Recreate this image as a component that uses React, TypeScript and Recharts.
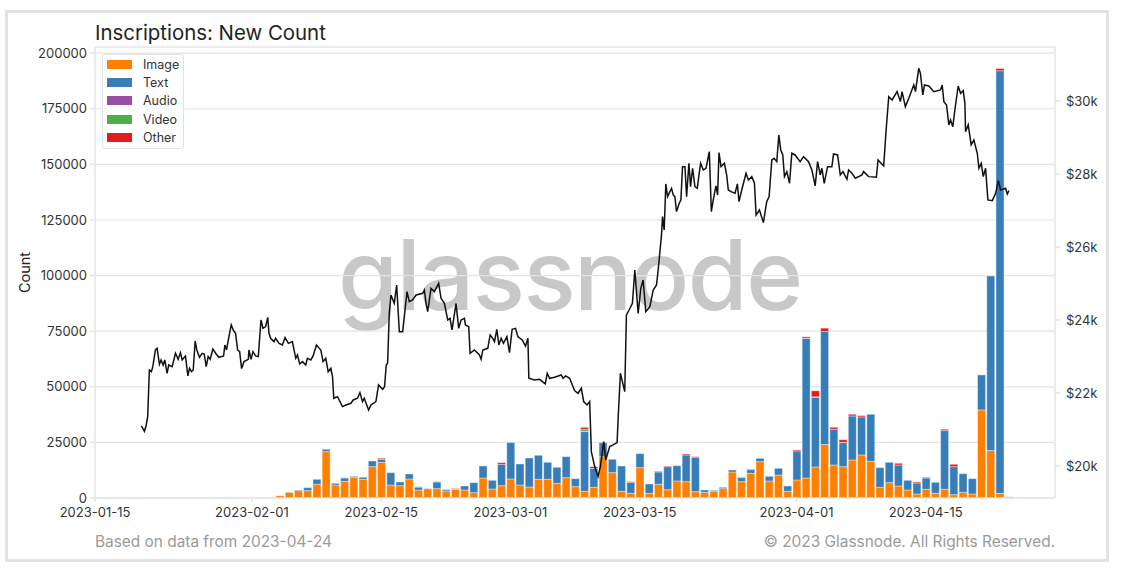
import { Bar, ComposedChart, Legend, Line, ReferenceLine, XAxis, YAxis, CartesianGrid } from "recharts";

// x values are days since 2023-01-15
const xTicks = [0, 17, 31, 45, 59, 76, 90];
const xLabels = ["2023-01-15", "2023-02-01", "2023-02-15", "2023-03-01", "2023-03-15", "2023-04-01", "2023-04-15"];
const countTicks = [0, 25000, 50000, 75000, 100000, 125000, 150000, 175000, 200000];
const priceTicks = [20000, 22000, 24000, 26000, 28000, 30000];

const barDays = [18, 19, 20, 21, 22, 23, 24, 25, 26, 27, 28, 29, 30, 31, 32, 33, 34, 35, 36, 37, 38, 39, 40, 41, 42, 43, 44, 45, 46, 47, 48, 49, 50, 51, 52, 53, 54, 55, 56, 57, 58, 59, 60, 61, 62, 63, 64, 65, 66, 67, 68, 69, 70, 71, 72, 73, 74, 75, 76, 77, 78, 79, 80, 81, 82, 83, 84, 85, 86, 87, 88, 89, 90, 91, 92, 93, 94, 95, 96, 97, 98, 99];
const image = [300, 100, 1000, 2550, 3300, 3300, 6150, 20850, 5850, 7500, 9300, 8400, 14100, 16050, 5850, 5550, 8550, 3600, 4200, 4200, 3150, 3900, 3600, 2400, 9000, 4050, 5550, 8550, 5850, 4950, 8400, 8400, 6600, 9150, 5100, 3000, 4800, 18600, 11400, 3000, 2100, 13650, 2100, 6150, 3750, 7650, 7350, 2850, 2550, 3000, 4200, 11700, 7350, 11100, 16350, 7650, 10350, 3000, 8100, 9000, 13950, 24000, 14850, 14100, 17100, 19350, 16500, 4800, 6900, 5400, 3600, 1800, 3900, 2100, 3900, 1500, 2550, 1800, 39600, 21300, 2100, 100];
const text = [0, 0, 0, 150, 300, 1350, 2250, 1050, 750, 1500, 450, 900, 2550, 1300, 5550, 1650, 2250, 1300, 150, 3000, 600, 300, 1800, 4500, 5400, 3900, 9600, 16350, 9450, 13050, 10800, 7650, 7200, 9450, 3600, 26850, 8550, 6300, 6000, 11400, 4950, 6300, 4200, 5550, 10350, 6900, 12000, 15450, 1050, 450, 600, 900, 1800, 1650, 1500, 2100, 3000, 2400, 13050, 62700, 31350, 50850, 16050, 10800, 19800, 17100, 21150, 8850, 9150, 9450, 4350, 4950, 5100, 4950, 26400, 12600, 8400, 6900, 15750, 78500, 190000, 400];
const audio = [0, 0, 0, 0, 0, 0, 0, 0, 0, 0, 0, 0, 0, 0, 0, 0, 0, 0, 0, 0, 0, 0, 0, 0, 0, 0, 0, 0, 0, 0, 0, 0, 0, 0, 0, 100, 0, 0, 0, 0, 0, 0, 0, 0, 0, 0, 0, 0, 0, 0, 0, 0, 0, 0, 0, 0, 0, 0, 0, 150, 200, 0, 0, 100, 0, 0, 0, 0, 0, 0, 0, 0, 0, 0, 0, 0, 0, 0, 0, 0, 0, 0];
const video = [0, 0, 0, 0, 0, 0, 0, 0, 0, 150, 0, 0, 0, 0, 0, 0, 0, 200, 0, 0, 0, 0, 0, 0, 0, 0, 0, 0, 0, 0, 0, 0, 0, 0, 0, 900, 0, 0, 0, 0, 0, 0, 0, 0, 0, 0, 0, 0, 0, 0, 0, 0, 350, 0, 0, 0, 0, 0, 0, 0, 0, 0, 0, 0, 0, 0, 0, 0, 0, 0, 0, 0, 0, 0, 0, 0, 0, 0, 0, 0, 0, 0];
const other = [0, 0, 0, 0, 0, 0, 0, 0, 0, 0, 0, 0, 0, 500, 0, 0, 0, 0, 0, 150, 150, 150, 0, 0, 0, 0, 750, 0, 0, 0, 0, 0, 0, 0, 0, 900, 750, 0, 0, 0, 300, 0, 0, 300, 300, 0, 450, 300, 0, 0, 0, 0, 0, 250, 0, 0, 0, 0, 450, 600, 2700, 1500, 900, 1200, 750, 600, 0, 0, 0, 750, 0, 450, 300, 0, 600, 1050, 0, 0, 0, 0, 1000, 0];

const priceDays = [5.03, 5.35, 5.53, 5.71, 5.89, 6.11, 6.26, 6.55, 6.73, 6.98, 7.16, 7.38, 7.56, 7.81, 7.99, 8.36, 8.54, 8.72, 9.01, 9.26, 9.44, 9.8, 10.06, 10.24, 10.45, 10.64, 10.85, 11.03, 11.32, 11.61, 11.83, 12.05, 12.26, 12.48, 12.77, 13.13, 13.42, 13.93, 14.07, 14.25, 14.51, 14.76, 15.01, 15.23, 15.45, 15.67, 15.88, 16.14, 16.61, 16.68, 16.9, 17.11, 17.4, 17.69, 17.98, 18.2, 18.49, 18.71, 18.85, 19.03, 19.39, 19.57, 19.94, 20.3, 20.59, 20.95, 21.38, 21.75, 21.93, 22.18, 22.47, 22.83, 23.01, 23.38, 23.63, 23.99, 24.46, 24.71, 25.0, 25.26, 25.55, 25.73, 25.87, 26.27, 26.81, 27.18, 27.72, 27.97, 28.44, 28.7, 28.98, 29.17, 29.64, 29.89, 30.43, 30.72, 31.16, 31.37, 31.55, 31.7, 31.88, 32.06, 32.42, 32.68, 32.97, 33.33, 33.51, 33.8, 34.05, 34.41, 34.78, 35.5, 35.68, 35.86, 36.04, 36.4, 36.76, 37.23, 37.49, 37.85, 38.21, 38.46, 38.68, 39.11, 39.4, 39.66, 40.02, 40.13, 40.49, 40.63, 41.1, 41.65, 41.83, 42.01, 42.55, 42.81, 43.1, 43.28, 43.53, 43.75, 44.0, 44.25, 44.62, 44.9, 45.19, 45.56, 45.81, 46.28, 46.64, 46.9, 47.0, 47.62, 48.16, 48.78, 48.99, 49.25, 49.79, 50.51, 50.7, 50.99, 51.42, 51.71, 51.96, 52.32, 52.69, 52.94, 53.3, 53.59, 53.77, 54.13, 54.5, 54.75, 55.11, 55.33, 55.76, 56.12, 56.56, 56.7, 56.92, 57.39, 57.57, 57.86, 58.22, 58.48, 58.84, 59.13, 59.38, 59.67, 60.11, 60.47, 60.83, 61.01, 61.37, 61.48, 61.66, 61.84, 62.03, 62.28, 62.46, 62.64, 62.82, 63.0, 63.29, 63.47, 63.65, 63.91, 64.09, 64.34, 64.52, 64.74, 64.99, 65.25, 65.43, 65.61, 65.9, 66.19, 66.55, 66.77, 66.98, 67.27, 67.45, 67.6, 67.82, 68.18, 68.43, 68.61, 68.9, 69.34, 69.59, 69.77, 70.06, 70.53, 70.78, 71.15, 71.44, 71.62, 71.98, 72.41, 72.77, 73.03, 73.32, 73.57, 73.86, 74.08, 74.29, 74.51, 74.69, 74.95, 75.24, 75.49, 75.85, 76.39, 76.76, 77.3, 77.66, 78.02, 78.28, 78.57, 78.75, 79.0, 79.36, 79.83, 80.01, 80.45, 80.74, 81.03, 81.46, 81.64, 82.0, 82.37, 83.09, 83.27, 83.81, 84.65, 84.83, 85.44, 85.7, 85.99, 86.35, 86.89, 87.25, 87.43, 87.79, 88.16, 88.7, 88.88, 89.24, 89.42, 89.68, 89.86, 90.33, 90.87, 91.59, 91.78, 91.96, 92.25, 92.5, 92.68, 92.93, 93.15, 93.51, 93.77, 94.06, 94.24, 94.31, 94.6, 94.92, 95.21, 95.58, 95.76, 96.01, 96.23, 96.48, 96.73, 97.21, 97.57, 97.86, 98.11, 98.65, 98.83, 99.01];
const priceValues = [21097, 20951, 21097, 21353, 22631, 22585, 22722, 23179, 23224, 22786, 22905, 22768, 22905, 22540, 22768, 22722, 22905, 23088, 22923, 23106, 22905, 23015, 22467, 22677, 22585, 22631, 23425, 23179, 22978, 23088, 23069, 22722, 22996, 22923, 23206, 23069, 22978, 23015, 23316, 23179, 23544, 23864, 23708, 23635, 23179, 23133, 22668, 22859, 22923, 23179, 22923, 23133, 23015, 22996, 24000, 23772, 23818, 24074, 23635, 23498, 23407, 23498, 23361, 23316, 23517, 23361, 23407, 22950, 23042, 22795, 22859, 22768, 22950, 22905, 23015, 23316, 23179, 22859, 22950, 22585, 22677, 22448, 21855, 21901, 21627, 21672, 21718, 21809, 21855, 22010, 21764, 21855, 21535, 21672, 21764, 22220, 22101, 22174, 22768, 22814, 24183, 24685, 24457, 24959, 23681, 23681, 24092, 24777, 24503, 24548, 24685, 24731, 24822, 24457, 24229, 24868, 24777, 25005, 24594, 24457, 24000, 24046, 23727, 24457, 23772, 24000, 24046, 23864, 23818, 23088, 23179, 23042, 22923, 23179, 23224, 23590, 23498, 23407, 23745, 23316, 23498, 23361, 23544, 23106, 23745, 23772, 23544, 23453, 23288, 23498, 22403, 22357, 22375, 22248, 22540, 22403, 22430, 22494, 22403, 22467, 22403, 22220, 22065, 21992, 22129, 21764, 21672, 21764, 20394, 19983, 19709, 19983, 20668, 20166, 20531, 20577, 20641, 21444, 22540, 22038, 24137, 24274, 24457, 25370, 24183, 24868, 25096, 24229, 24366, 24822, 24959, 25370, 26331, 26833, 26468, 27728, 27381, 27518, 27609, 27426, 27381, 26970, 27198, 27289, 28202, 28202, 27381, 28294, 27655, 28157, 27655, 27609, 27974, 28294, 28111, 28157, 28613, 26970, 27289, 27673, 27426, 28586, 28202, 28294, 27974, 27563, 27518, 27472, 27728, 27244, 27563, 28020, 27837, 27928, 27746, 26878, 27015, 26669, 27244, 27381, 28385, 28431, 28339, 29070, 28659, 28522, 27928, 28065, 27746, 28568, 28522, 28339, 28476, 28339, 28111, 27673, 28339, 27974, 28157, 27746, 28202, 28202, 28549, 28522, 27974, 28065, 27855, 28111, 28020, 27883, 27974, 28065, 27928, 27910, 28385, 28221, 29188, 30120, 30028, 30257, 29983, 30257, 29846, 30074, 30439, 30257, 30896, 30759, 30165, 30439, 30412, 30257, 30302, 30439, 29983, 29891, 29344, 29481, 29298, 29754, 30412, 30211, 30284, 29937, 29161, 29344, 28796, 28933, 28568, 28157, 28294, 27928, 28157, 27289, 27271, 27472, 27819, 27563, 27609, 27453, 27545];

const seriesNames = ["Image", "Text", "Audio", "Video", "Other"];
const seriesColors = ["#ff7f00", "#377eb8", "#984ea3", "#4daf4a", "#e41a1c"];

const barData = barDays.map((day, i) => ({
  day,
  Image: image[i],
  Text: text[i],
  Audio: audio[i],
  Video: video[i],
  Other: other[i],
}));
const priceData = priceDays.map((day, i) => ({ day, price: priceValues[i] }));

const FONT = "Inter, sans-serif";
const SPINE = "#e4e4e4";
const tickStyle = { fill: "#333", fontSize: 13, fontFamily: FONT };

function LegendBox() {
  return (
    <div
      style={{
        width: 82,
        height: 95,
        boxSizing: "border-box",
        background: "rgba(255,255,255,0.85)",
        border: "1px solid #e2e2e2",
        borderRadius: 3,
        fontFamily: FONT,
        fontSize: 12.5,
        color: "#333",
      }}
    >
      {seriesNames.map((name, i) => (
        <div key={name} style={{ display: "flex", alignItems: "center", height: 18.4 }}>
          <span style={{ width: 25, height: 9, marginLeft: 4, background: seriesColors[i] }} />
          <span style={{ marginLeft: 11 }}>{name}</span>
        </div>
      ))}
    </div>
  );
}

export default function App() {
  return (
    <div style={{ position: "absolute", left: 0, top: 0, width: 1126, height: 569, background: "#fff", overflow: "hidden" }}>
      {/* outer frame */}
      <div style={{ position: "absolute", left: 5, top: 10, width: 1104, height: 552, border: "3px solid #e2e2e2", boxSizing: "border-box" }} />
      <div style={{ position: "absolute", left: 95, top: 20, fontFamily: FONT, fontSize: 20.4, color: "#222", whiteSpace: "nowrap" }}>
        Inscriptions: New Count
      </div>
      {/* watermark sits behind the transparent chart */}
      <div style={{ position: "absolute", left: 338, top: 205, fontFamily: FONT, fontSize: 97, fontWeight: 500, lineHeight: "140px", letterSpacing: -1.6, color: "#c8c8c8", whiteSpace: "nowrap" }}>
        glassnode
      </div>
      <div style={{ position: "absolute", left: 0, top: 0 }}>
        <ComposedChart
          width={1126}
          height={569}
          data={barData}
          margin={{ top: 47, right: 0, bottom: 0, left: 0 }}
          barCategoryGap={0}
        >
          <CartesianGrid vertical={false} stroke={SPINE} strokeWidth={1.2} yAxisId="count" horizontalValues={countTicks} />
          <XAxis
            dataKey="day"
            type="number"
            domain={[0, 104]}
            ticks={xTicks}
            allowDataOverflow
            height={71}
            tickSize={4}
            tickMargin={6}
            interval={0}
            stroke={SPINE}
            strokeWidth={1.5}
            tick={tickStyle}
            tickFormatter={(d: number) => xLabels[xTicks.indexOf(d)]}
          />
          {/* the hourly price gets its own x axis, else the bar band collapses */}
          <XAxis xAxisId="priceX" dataKey="day" type="number" domain={[0, 104]} allowDataOverflow hide />
          <YAxis
            yAxisId="count"
            orientation="left"
            width={95}
            domain={[0, 202770]}
            ticks={countTicks}
            interval={0}
            allowDataOverflow
            tickSize={5}
            tickMargin={3}
            stroke={SPINE}
            strokeWidth={1.5}
            tick={tickStyle}
            label={{ value: "Count", angle: -90, position: "insideLeft", offset: 25, style: { fill: "#222", fontSize: 14.5, fontFamily: FONT, textAnchor: "middle" } }}
          />
          <YAxis
            yAxisId="price"
            orientation="right"
            width={71}
            domain={[19123, 31480]}
            ticks={priceTicks}
            interval={0}
            allowDataOverflow
            tickSize={5}
            tickMargin={6}
            stroke={SPINE}
            strokeWidth={1.5}
            tick={tickStyle}
            tickFormatter={(v: number) => `$${v / 1000}k`}
          />
          <ReferenceLine yAxisId="count" y={202770} stroke={SPINE} strokeWidth={1.5} />
          {seriesNames.map((name, i) => (
            <Bar
              key={name}
              yAxisId="count"
              dataKey={name}
              stackId="a"
              barSize={8}
              fill={seriesColors[i]}
              stroke="#ffffff"
              strokeOpacity={0.55}
              strokeWidth={0.7}
              isAnimationActive={false}
            />
          ))}
          <Line
            xAxisId="priceX"
            yAxisId="price"
            data={priceData}
            dataKey="price"
            type="linear"
            stroke="#111"
            strokeWidth={1.5}
            dot={false}
            legendType="none"
            isAnimationActive={false}
          />
          <Legend
            layout="vertical"
            align="center"
            verticalAlign="middle"
            content={() => <LegendBox />}
            wrapperStyle={{ left: 102, top: 54, width: 82, height: 95 }}
          />
        </ComposedChart>
      </div>
      <div style={{ position: "absolute", left: 95, top: 532, fontFamily: FONT, fontSize: 15.4, color: "#9a9a9a", whiteSpace: "nowrap" }}>
        Based on data from 2023-04-24
      </div>
      <div style={{ position: "absolute", right: 71, top: 532, fontFamily: FONT, fontSize: 15.4, color: "#9a9a9a", whiteSpace: "nowrap" }}>
        © 2023 Glassnode. All Rights Reserved.
      </div>
    </div>
  );
}
